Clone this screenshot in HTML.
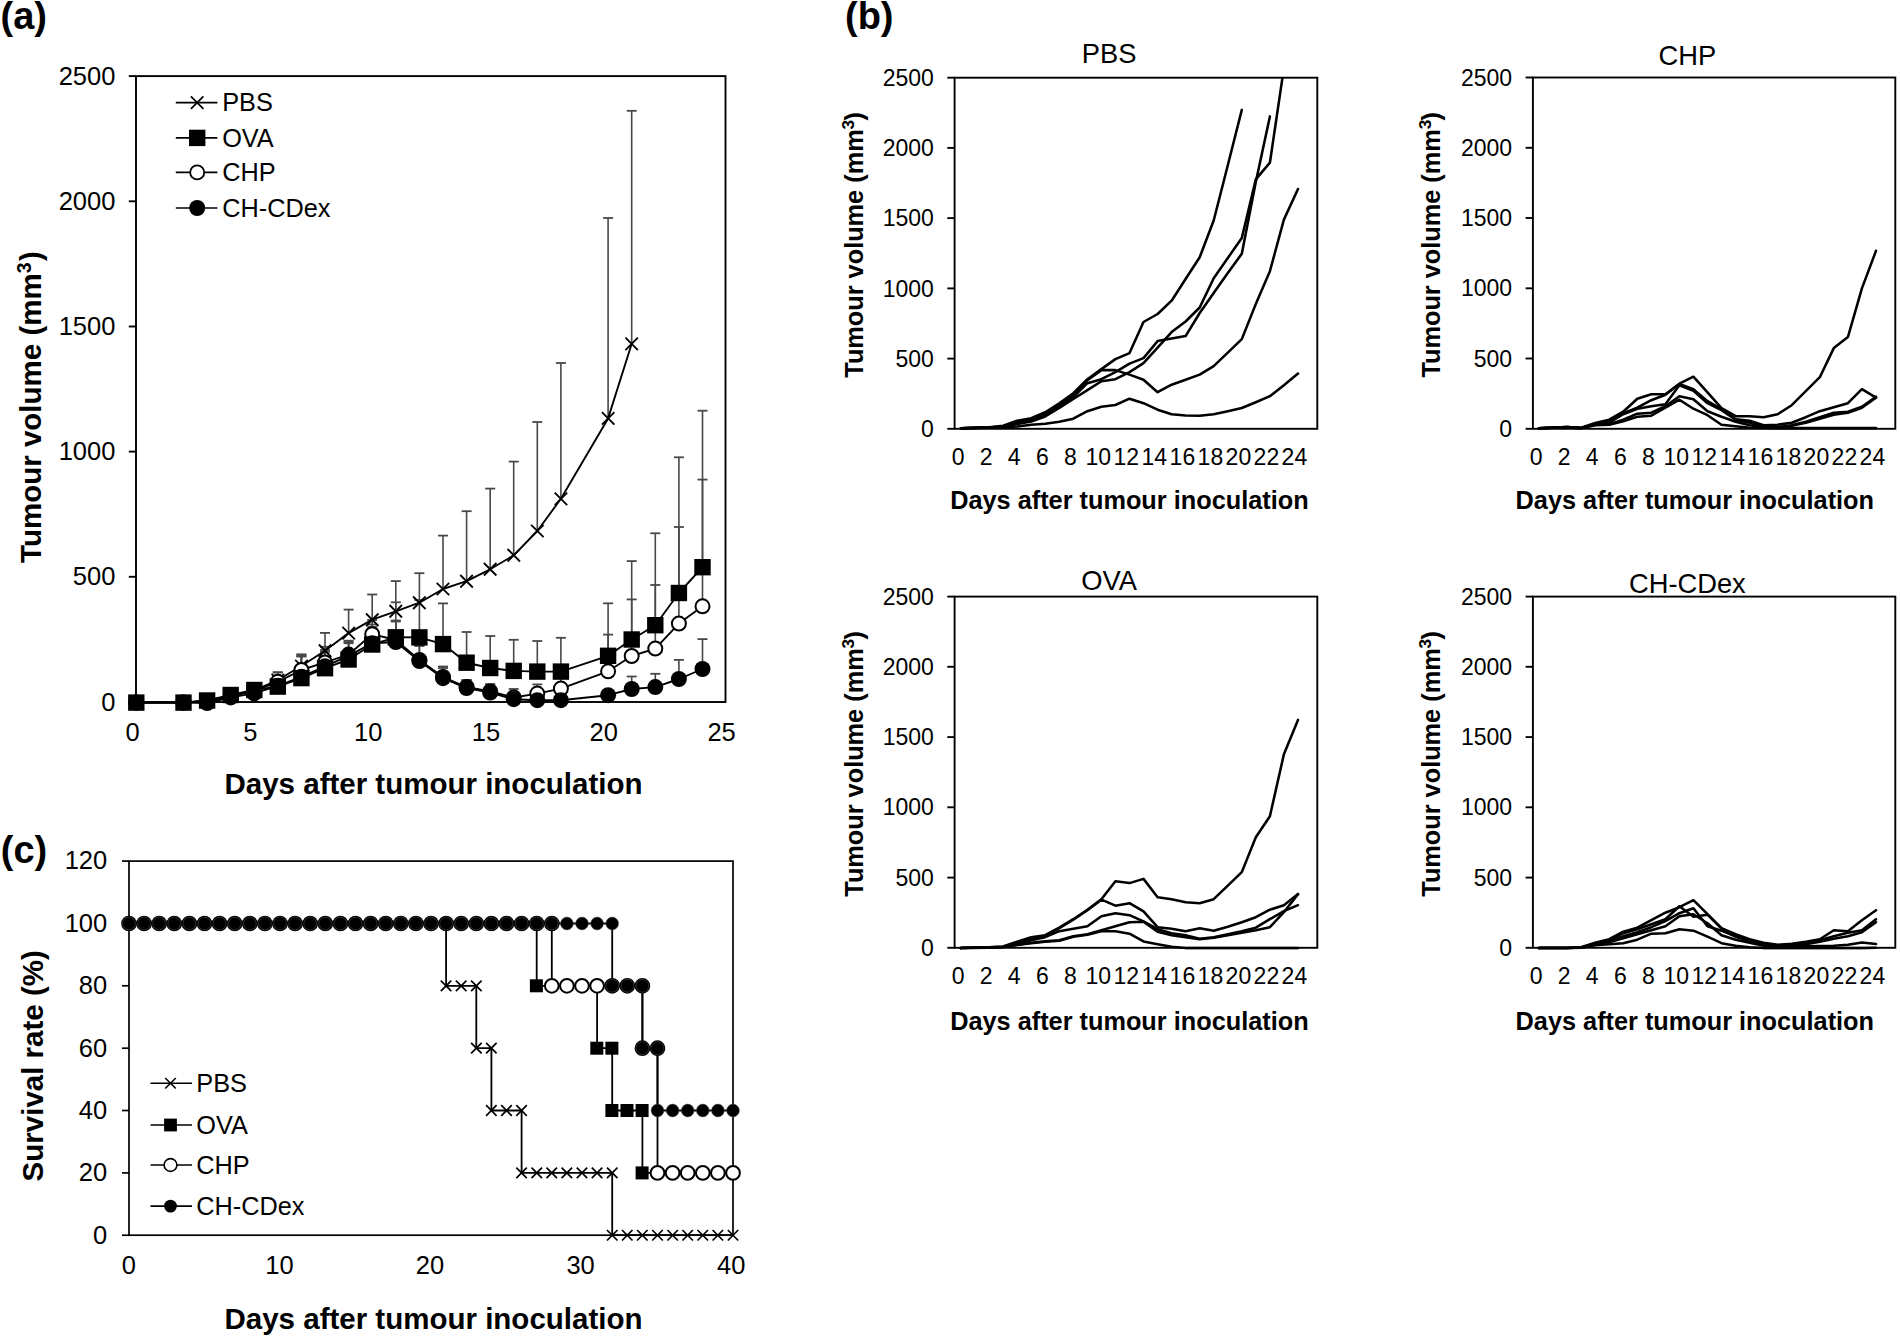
<!DOCTYPE html>
<html lang="en"><head><meta charset="utf-8"><title>Tumour volume and survival rate</title>
<style>
html,body{margin:0;padding:0;background:#fff;}
body{width:1900px;height:1338px;overflow:hidden;}
svg{display:block;font-family:"Liberation Sans", Arial, Helvetica, sans-serif;fill:#000;}
svg text{fill:#000;}
</style></head><body>
<svg width="1900" height="1338" viewBox="0 0 1900 1338">
<rect x="0" y="0" width="1900" height="1338" fill="#fff"/>
<text x="0.5" y="29.3" font-size="38" text-anchor="start" font-weight="bold" >(a)</text>
<rect x="136.0" y="76.1" width="589.5" height="625.9" fill="none" stroke="#000" stroke-width="1.9"/>
<line x1="128.8" y1="702.0" x2="136.0" y2="702.0" stroke="#000" stroke-width="1.9" />
<text x="115.4" y="710.5" font-size="25.5" text-anchor="end" >0</text>
<line x1="128.8" y1="576.8" x2="136.0" y2="576.8" stroke="#000" stroke-width="1.9" />
<text x="115.4" y="585.3" font-size="25.5" text-anchor="end" >500</text>
<line x1="128.8" y1="451.6" x2="136.0" y2="451.6" stroke="#000" stroke-width="1.9" />
<text x="115.4" y="460.1" font-size="25.5" text-anchor="end" >1000</text>
<line x1="128.8" y1="326.5" x2="136.0" y2="326.5" stroke="#000" stroke-width="1.9" />
<text x="115.4" y="335.0" font-size="25.5" text-anchor="end" >1500</text>
<line x1="128.8" y1="201.3" x2="136.0" y2="201.3" stroke="#000" stroke-width="1.9" />
<text x="115.4" y="209.8" font-size="25.5" text-anchor="end" >2000</text>
<line x1="128.8" y1="76.1" x2="136.0" y2="76.1" stroke="#000" stroke-width="1.9" />
<text x="115.4" y="84.6" font-size="25.5" text-anchor="end" >2500</text>
<text x="132.6" y="740.9" font-size="25.5" text-anchor="middle" >0</text>
<text x="250.4" y="740.9" font-size="25.5" text-anchor="middle" >5</text>
<text x="368.2" y="740.9" font-size="25.5" text-anchor="middle" >10</text>
<text x="486.0" y="740.9" font-size="25.5" text-anchor="middle" >15</text>
<text x="603.8" y="740.9" font-size="25.5" text-anchor="middle" >20</text>
<text x="721.6" y="740.9" font-size="25.5" text-anchor="middle" >25</text>
<text transform="translate(40.6,407.0) rotate(-90)" font-size="29.5" text-anchor="middle" font-weight="bold">Tumour volume (mm<tspan font-size="19.5" dy="-9.5">3</tspan><tspan dy="9.5" dx="1.5">)</tspan></text>
<text x="433.5" y="794.0" font-size="29.5" text-anchor="middle" font-weight="bold" >Days after tumour inoculation</text>
<g>
<line x1="254.2" y1="690.5" x2="254.2" y2="686.0" stroke="#484848" stroke-width="1.6" />
<line x1="249.2" y1="686.0" x2="259.2" y2="686.0" stroke="#484848" stroke-width="1.8" />
<line x1="277.8" y1="680.0" x2="277.8" y2="672.4" stroke="#484848" stroke-width="1.6" />
<line x1="272.8" y1="672.4" x2="282.8" y2="672.4" stroke="#484848" stroke-width="1.8" />
<line x1="301.4" y1="666.0" x2="301.4" y2="655.2" stroke="#484848" stroke-width="1.6" />
<line x1="296.4" y1="655.2" x2="306.4" y2="655.2" stroke="#484848" stroke-width="1.8" />
<line x1="325.0" y1="650.8" x2="325.0" y2="632.9" stroke="#484848" stroke-width="1.6" />
<line x1="320.0" y1="632.9" x2="330.0" y2="632.9" stroke="#484848" stroke-width="1.8" />
<line x1="348.6" y1="633.1" x2="348.6" y2="609.6" stroke="#484848" stroke-width="1.6" />
<line x1="343.6" y1="609.6" x2="353.6" y2="609.6" stroke="#484848" stroke-width="1.8" />
<line x1="372.2" y1="619.7" x2="372.2" y2="594.5" stroke="#484848" stroke-width="1.6" />
<line x1="367.2" y1="594.5" x2="377.2" y2="594.5" stroke="#484848" stroke-width="1.8" />
<line x1="395.8" y1="611.3" x2="395.8" y2="581.1" stroke="#484848" stroke-width="1.6" />
<line x1="390.8" y1="581.1" x2="400.8" y2="581.1" stroke="#484848" stroke-width="1.8" />
<line x1="419.4" y1="602.7" x2="419.4" y2="573.2" stroke="#484848" stroke-width="1.6" />
<line x1="414.4" y1="573.2" x2="424.4" y2="573.2" stroke="#484848" stroke-width="1.8" />
<line x1="443.0" y1="589.0" x2="443.0" y2="535.6" stroke="#484848" stroke-width="1.6" />
<line x1="438.0" y1="535.6" x2="448.0" y2="535.6" stroke="#484848" stroke-width="1.8" />
<line x1="466.6" y1="581.2" x2="466.6" y2="511.2" stroke="#484848" stroke-width="1.6" />
<line x1="461.6" y1="511.2" x2="471.6" y2="511.2" stroke="#484848" stroke-width="1.8" />
<line x1="490.2" y1="569.3" x2="490.2" y2="488.6" stroke="#484848" stroke-width="1.6" />
<line x1="485.2" y1="488.6" x2="495.2" y2="488.6" stroke="#484848" stroke-width="1.8" />
<line x1="513.7" y1="555.3" x2="513.7" y2="461.6" stroke="#484848" stroke-width="1.6" />
<line x1="508.7" y1="461.6" x2="518.7" y2="461.6" stroke="#484848" stroke-width="1.8" />
<line x1="537.3" y1="531.0" x2="537.3" y2="422.0" stroke="#484848" stroke-width="1.6" />
<line x1="532.3" y1="422.0" x2="542.3" y2="422.0" stroke="#484848" stroke-width="1.8" />
<line x1="560.9" y1="498.8" x2="560.9" y2="363.0" stroke="#484848" stroke-width="1.6" />
<line x1="555.9" y1="363.0" x2="565.9" y2="363.0" stroke="#484848" stroke-width="1.8" />
<line x1="608.1" y1="418.4" x2="608.1" y2="218.0" stroke="#484848" stroke-width="1.6" />
<line x1="603.1" y1="218.0" x2="613.1" y2="218.0" stroke="#484848" stroke-width="1.8" />
<line x1="631.7" y1="343.8" x2="631.7" y2="110.8" stroke="#484848" stroke-width="1.6" />
<line x1="626.7" y1="110.8" x2="636.7" y2="110.8" stroke="#484848" stroke-width="1.8" />
<line x1="277.8" y1="686.6" x2="277.8" y2="677.0" stroke="#484848" stroke-width="1.6" />
<line x1="272.8" y1="677.0" x2="282.8" y2="677.0" stroke="#484848" stroke-width="1.8" />
<line x1="301.4" y1="678.1" x2="301.4" y2="654.3" stroke="#484848" stroke-width="1.6" />
<line x1="296.4" y1="654.3" x2="306.4" y2="654.3" stroke="#484848" stroke-width="1.8" />
<line x1="325.0" y1="668.2" x2="325.0" y2="652.0" stroke="#484848" stroke-width="1.6" />
<line x1="320.0" y1="652.0" x2="330.0" y2="652.0" stroke="#484848" stroke-width="1.8" />
<line x1="348.6" y1="659.5" x2="348.6" y2="640.7" stroke="#484848" stroke-width="1.6" />
<line x1="343.6" y1="640.7" x2="353.6" y2="640.7" stroke="#484848" stroke-width="1.8" />
<line x1="372.2" y1="644.5" x2="372.2" y2="624.5" stroke="#484848" stroke-width="1.6" />
<line x1="367.2" y1="624.5" x2="377.2" y2="624.5" stroke="#484848" stroke-width="1.8" />
<line x1="395.8" y1="637.3" x2="395.8" y2="602.3" stroke="#484848" stroke-width="1.6" />
<line x1="390.8" y1="602.3" x2="400.8" y2="602.3" stroke="#484848" stroke-width="1.8" />
<line x1="419.4" y1="637.4" x2="419.4" y2="600.0" stroke="#484848" stroke-width="1.6" />
<line x1="414.4" y1="600.0" x2="424.4" y2="600.0" stroke="#484848" stroke-width="1.8" />
<line x1="443.0" y1="644.1" x2="443.0" y2="603.4" stroke="#484848" stroke-width="1.6" />
<line x1="438.0" y1="603.4" x2="448.0" y2="603.4" stroke="#484848" stroke-width="1.8" />
<line x1="466.6" y1="662.7" x2="466.6" y2="632.0" stroke="#484848" stroke-width="1.6" />
<line x1="461.6" y1="632.0" x2="471.6" y2="632.0" stroke="#484848" stroke-width="1.8" />
<line x1="490.2" y1="668.0" x2="490.2" y2="636.0" stroke="#484848" stroke-width="1.6" />
<line x1="485.2" y1="636.0" x2="495.2" y2="636.0" stroke="#484848" stroke-width="1.8" />
<line x1="513.7" y1="670.9" x2="513.7" y2="639.8" stroke="#484848" stroke-width="1.6" />
<line x1="508.7" y1="639.8" x2="518.7" y2="639.8" stroke="#484848" stroke-width="1.8" />
<line x1="537.3" y1="671.6" x2="537.3" y2="641.0" stroke="#484848" stroke-width="1.6" />
<line x1="532.3" y1="641.0" x2="542.3" y2="641.0" stroke="#484848" stroke-width="1.8" />
<line x1="560.9" y1="671.6" x2="560.9" y2="637.8" stroke="#484848" stroke-width="1.6" />
<line x1="555.9" y1="637.8" x2="565.9" y2="637.8" stroke="#484848" stroke-width="1.8" />
<line x1="608.1" y1="655.8" x2="608.1" y2="603.3" stroke="#484848" stroke-width="1.6" />
<line x1="603.1" y1="603.3" x2="613.1" y2="603.3" stroke="#484848" stroke-width="1.8" />
<line x1="631.7" y1="639.5" x2="631.7" y2="561.1" stroke="#484848" stroke-width="1.6" />
<line x1="626.7" y1="561.1" x2="636.7" y2="561.1" stroke="#484848" stroke-width="1.8" />
<line x1="655.3" y1="625.2" x2="655.3" y2="533.3" stroke="#484848" stroke-width="1.6" />
<line x1="650.3" y1="533.3" x2="660.3" y2="533.3" stroke="#484848" stroke-width="1.8" />
<line x1="678.9" y1="593.0" x2="678.9" y2="457.3" stroke="#484848" stroke-width="1.6" />
<line x1="673.9" y1="457.3" x2="683.9" y2="457.3" stroke="#484848" stroke-width="1.8" />
<line x1="702.5" y1="567.2" x2="702.5" y2="410.7" stroke="#484848" stroke-width="1.6" />
<line x1="697.5" y1="410.7" x2="707.5" y2="410.7" stroke="#484848" stroke-width="1.8" />
<line x1="277.8" y1="681.8" x2="277.8" y2="672.3" stroke="#484848" stroke-width="1.6" />
<line x1="272.8" y1="672.3" x2="282.8" y2="672.3" stroke="#484848" stroke-width="1.8" />
<line x1="301.4" y1="670.0" x2="301.4" y2="656.2" stroke="#484848" stroke-width="1.6" />
<line x1="296.4" y1="656.2" x2="306.4" y2="656.2" stroke="#484848" stroke-width="1.8" />
<line x1="325.0" y1="662.4" x2="325.0" y2="646.8" stroke="#484848" stroke-width="1.6" />
<line x1="320.0" y1="646.8" x2="330.0" y2="646.8" stroke="#484848" stroke-width="1.8" />
<line x1="348.6" y1="654.6" x2="348.6" y2="643.2" stroke="#484848" stroke-width="1.6" />
<line x1="343.6" y1="643.2" x2="353.6" y2="643.2" stroke="#484848" stroke-width="1.8" />
<line x1="372.2" y1="634.2" x2="372.2" y2="620.0" stroke="#484848" stroke-width="1.6" />
<line x1="367.2" y1="620.0" x2="377.2" y2="620.0" stroke="#484848" stroke-width="1.8" />
<line x1="395.8" y1="640.0" x2="395.8" y2="620.5" stroke="#484848" stroke-width="1.6" />
<line x1="390.8" y1="620.5" x2="400.8" y2="620.5" stroke="#484848" stroke-width="1.8" />
<line x1="419.4" y1="660.0" x2="419.4" y2="645.0" stroke="#484848" stroke-width="1.6" />
<line x1="414.4" y1="645.0" x2="424.4" y2="645.0" stroke="#484848" stroke-width="1.8" />
<line x1="443.0" y1="677.0" x2="443.0" y2="668.0" stroke="#484848" stroke-width="1.6" />
<line x1="438.0" y1="668.0" x2="448.0" y2="668.0" stroke="#484848" stroke-width="1.8" />
<line x1="466.6" y1="687.0" x2="466.6" y2="680.0" stroke="#484848" stroke-width="1.6" />
<line x1="461.6" y1="680.0" x2="471.6" y2="680.0" stroke="#484848" stroke-width="1.8" />
<line x1="490.2" y1="691.5" x2="490.2" y2="684.0" stroke="#484848" stroke-width="1.6" />
<line x1="485.2" y1="684.0" x2="495.2" y2="684.0" stroke="#484848" stroke-width="1.8" />
<line x1="513.7" y1="697.5" x2="513.7" y2="689.0" stroke="#484848" stroke-width="1.6" />
<line x1="508.7" y1="689.0" x2="518.7" y2="689.0" stroke="#484848" stroke-width="1.8" />
<line x1="537.3" y1="693.6" x2="537.3" y2="684.4" stroke="#484848" stroke-width="1.6" />
<line x1="532.3" y1="684.4" x2="542.3" y2="684.4" stroke="#484848" stroke-width="1.8" />
<line x1="560.9" y1="688.6" x2="560.9" y2="676.0" stroke="#484848" stroke-width="1.6" />
<line x1="555.9" y1="676.0" x2="565.9" y2="676.0" stroke="#484848" stroke-width="1.8" />
<line x1="608.1" y1="671.3" x2="608.1" y2="634.6" stroke="#484848" stroke-width="1.6" />
<line x1="603.1" y1="634.6" x2="613.1" y2="634.6" stroke="#484848" stroke-width="1.8" />
<line x1="631.7" y1="656.0" x2="631.7" y2="599.4" stroke="#484848" stroke-width="1.6" />
<line x1="626.7" y1="599.4" x2="636.7" y2="599.4" stroke="#484848" stroke-width="1.8" />
<line x1="655.3" y1="648.6" x2="655.3" y2="585.0" stroke="#484848" stroke-width="1.6" />
<line x1="650.3" y1="585.0" x2="660.3" y2="585.0" stroke="#484848" stroke-width="1.8" />
<line x1="678.9" y1="623.6" x2="678.9" y2="527.0" stroke="#484848" stroke-width="1.6" />
<line x1="673.9" y1="527.0" x2="683.9" y2="527.0" stroke="#484848" stroke-width="1.8" />
<line x1="702.5" y1="606.3" x2="702.5" y2="479.6" stroke="#484848" stroke-width="1.6" />
<line x1="697.5" y1="479.6" x2="707.5" y2="479.6" stroke="#484848" stroke-width="1.8" />
<line x1="301.4" y1="676.8" x2="301.4" y2="656.5" stroke="#484848" stroke-width="1.6" />
<line x1="296.4" y1="656.5" x2="306.4" y2="656.5" stroke="#484848" stroke-width="1.8" />
<line x1="325.0" y1="666.3" x2="325.0" y2="650.0" stroke="#484848" stroke-width="1.6" />
<line x1="320.0" y1="650.0" x2="330.0" y2="650.0" stroke="#484848" stroke-width="1.8" />
<line x1="348.6" y1="655.8" x2="348.6" y2="642.0" stroke="#484848" stroke-width="1.6" />
<line x1="343.6" y1="642.0" x2="353.6" y2="642.0" stroke="#484848" stroke-width="1.8" />
<line x1="372.2" y1="643.2" x2="372.2" y2="627.0" stroke="#484848" stroke-width="1.6" />
<line x1="367.2" y1="627.0" x2="377.2" y2="627.0" stroke="#484848" stroke-width="1.8" />
<line x1="395.8" y1="642.0" x2="395.8" y2="621.5" stroke="#484848" stroke-width="1.6" />
<line x1="390.8" y1="621.5" x2="400.8" y2="621.5" stroke="#484848" stroke-width="1.8" />
<line x1="419.4" y1="661.0" x2="419.4" y2="646.0" stroke="#484848" stroke-width="1.6" />
<line x1="414.4" y1="646.0" x2="424.4" y2="646.0" stroke="#484848" stroke-width="1.8" />
<line x1="443.0" y1="678.2" x2="443.0" y2="666.5" stroke="#484848" stroke-width="1.6" />
<line x1="438.0" y1="666.5" x2="448.0" y2="666.5" stroke="#484848" stroke-width="1.8" />
<line x1="466.6" y1="688.1" x2="466.6" y2="680.0" stroke="#484848" stroke-width="1.6" />
<line x1="461.6" y1="680.0" x2="471.6" y2="680.0" stroke="#484848" stroke-width="1.8" />
<line x1="490.2" y1="692.5" x2="490.2" y2="685.0" stroke="#484848" stroke-width="1.6" />
<line x1="485.2" y1="685.0" x2="495.2" y2="685.0" stroke="#484848" stroke-width="1.8" />
<line x1="608.1" y1="695.2" x2="608.1" y2="690.0" stroke="#484848" stroke-width="1.6" />
<line x1="603.1" y1="690.0" x2="613.1" y2="690.0" stroke="#484848" stroke-width="1.8" />
<line x1="631.7" y1="689.0" x2="631.7" y2="676.5" stroke="#484848" stroke-width="1.6" />
<line x1="626.7" y1="676.5" x2="636.7" y2="676.5" stroke="#484848" stroke-width="1.8" />
<line x1="655.3" y1="687.1" x2="655.3" y2="673.8" stroke="#484848" stroke-width="1.6" />
<line x1="650.3" y1="673.8" x2="660.3" y2="673.8" stroke="#484848" stroke-width="1.8" />
<line x1="678.9" y1="679.0" x2="678.9" y2="659.9" stroke="#484848" stroke-width="1.6" />
<line x1="673.9" y1="659.9" x2="683.9" y2="659.9" stroke="#484848" stroke-width="1.8" />
<line x1="702.5" y1="669.0" x2="702.5" y2="639.1" stroke="#484848" stroke-width="1.6" />
<line x1="697.5" y1="639.1" x2="707.5" y2="639.1" stroke="#484848" stroke-width="1.8" />
</g>
<polyline points="136.3,702.6 183.5,702.6 207.1,700.5 230.7,696.0 254.2,690.5 277.8,680.0 301.4,666.0 325.0,650.8 348.6,633.1 372.2,619.7 395.8,611.3 419.4,602.7 443.0,589.0 466.6,581.2 490.2,569.3 513.7,555.3 537.3,531.0 560.9,498.8 608.1,418.4 631.7,343.8" fill="none" stroke="#000" stroke-width="1.9" stroke-linejoin="round" stroke-linecap="round" />
<path d="M130.1 696.4L142.6 708.9M130.1 708.9L142.6 696.4" stroke="#000" stroke-width="1.8" fill="none"/>
<path d="M177.2 696.4L189.7 708.9M177.2 708.9L189.7 696.4" stroke="#000" stroke-width="1.8" fill="none"/>
<path d="M200.8 694.2L213.3 706.8M200.8 706.8L213.3 694.2" stroke="#000" stroke-width="1.8" fill="none"/>
<path d="M224.4 689.8L236.9 702.2M224.4 702.2L236.9 689.8" stroke="#000" stroke-width="1.8" fill="none"/>
<path d="M248.0 684.2L260.5 696.8M248.0 696.8L260.5 684.2" stroke="#000" stroke-width="1.8" fill="none"/>
<path d="M271.6 673.8L284.1 686.2M271.6 686.2L284.1 673.8" stroke="#000" stroke-width="1.8" fill="none"/>
<path d="M295.2 659.8L307.7 672.2M295.2 672.2L307.7 659.8" stroke="#000" stroke-width="1.8" fill="none"/>
<path d="M318.8 644.5L331.3 657.0M318.8 657.0L331.3 644.5" stroke="#000" stroke-width="1.8" fill="none"/>
<path d="M342.4 626.9L354.9 639.4M342.4 639.4L354.9 626.9" stroke="#000" stroke-width="1.8" fill="none"/>
<path d="M366.0 613.5L378.5 626.0M366.0 626.0L378.5 613.5" stroke="#000" stroke-width="1.8" fill="none"/>
<path d="M389.5 605.0L402.0 617.5M389.5 617.5L402.0 605.0" stroke="#000" stroke-width="1.8" fill="none"/>
<path d="M413.1 596.5L425.6 609.0M413.1 609.0L425.6 596.5" stroke="#000" stroke-width="1.8" fill="none"/>
<path d="M436.7 582.8L449.2 595.2M436.7 595.2L449.2 582.8" stroke="#000" stroke-width="1.8" fill="none"/>
<path d="M460.3 575.0L472.8 587.5M460.3 587.5L472.8 575.0" stroke="#000" stroke-width="1.8" fill="none"/>
<path d="M483.9 563.0L496.4 575.5M483.9 575.5L496.4 563.0" stroke="#000" stroke-width="1.8" fill="none"/>
<path d="M507.5 549.0L520.0 561.5M507.5 561.5L520.0 549.0" stroke="#000" stroke-width="1.8" fill="none"/>
<path d="M531.1 524.8L543.6 537.2M531.1 537.2L543.6 524.8" stroke="#000" stroke-width="1.8" fill="none"/>
<path d="M554.7 492.6L567.2 505.1M554.7 505.1L567.2 492.6" stroke="#000" stroke-width="1.8" fill="none"/>
<path d="M601.9 412.1L614.4 424.6M601.9 424.6L614.4 412.1" stroke="#000" stroke-width="1.8" fill="none"/>
<path d="M625.4 337.6L637.9 350.1M625.4 350.1L637.9 337.6" stroke="#000" stroke-width="1.8" fill="none"/>
<polyline points="136.3,702.6 183.5,702.6 207.1,701.0 230.7,696.0 254.2,691.0 277.8,681.8 301.4,670.0 325.0,662.4 348.6,654.6 372.2,634.2 395.8,640.0 419.4,660.0 443.0,677.0 466.6,687.0 490.2,691.5 513.7,697.5 537.3,693.6 560.9,688.6 608.1,671.3 631.7,656.0 655.3,648.6 678.9,623.6 702.5,606.3" fill="none" stroke="#000" stroke-width="1.9" stroke-linejoin="round" stroke-linecap="round" />
<circle cx="136.3" cy="702.6" r="7.0" fill="#fff" stroke="#000" stroke-width="2.0"/>
<circle cx="183.5" cy="702.6" r="7.0" fill="#fff" stroke="#000" stroke-width="2.0"/>
<circle cx="207.1" cy="701.0" r="7.0" fill="#fff" stroke="#000" stroke-width="2.0"/>
<circle cx="230.7" cy="696.0" r="7.0" fill="#fff" stroke="#000" stroke-width="2.0"/>
<circle cx="254.2" cy="691.0" r="7.0" fill="#fff" stroke="#000" stroke-width="2.0"/>
<circle cx="277.8" cy="681.8" r="7.0" fill="#fff" stroke="#000" stroke-width="2.0"/>
<circle cx="301.4" cy="670.0" r="7.0" fill="#fff" stroke="#000" stroke-width="2.0"/>
<circle cx="325.0" cy="662.4" r="7.0" fill="#fff" stroke="#000" stroke-width="2.0"/>
<circle cx="348.6" cy="654.6" r="7.0" fill="#fff" stroke="#000" stroke-width="2.0"/>
<circle cx="372.2" cy="634.2" r="7.0" fill="#fff" stroke="#000" stroke-width="2.0"/>
<circle cx="395.8" cy="640.0" r="7.0" fill="#fff" stroke="#000" stroke-width="2.0"/>
<circle cx="419.4" cy="660.0" r="7.0" fill="#fff" stroke="#000" stroke-width="2.0"/>
<circle cx="443.0" cy="677.0" r="7.0" fill="#fff" stroke="#000" stroke-width="2.0"/>
<circle cx="466.6" cy="687.0" r="7.0" fill="#fff" stroke="#000" stroke-width="2.0"/>
<circle cx="490.2" cy="691.5" r="7.0" fill="#fff" stroke="#000" stroke-width="2.0"/>
<circle cx="513.7" cy="697.5" r="7.0" fill="#fff" stroke="#000" stroke-width="2.0"/>
<circle cx="537.3" cy="693.6" r="7.0" fill="#fff" stroke="#000" stroke-width="2.0"/>
<circle cx="560.9" cy="688.6" r="7.0" fill="#fff" stroke="#000" stroke-width="2.0"/>
<circle cx="608.1" cy="671.3" r="7.0" fill="#fff" stroke="#000" stroke-width="2.0"/>
<circle cx="631.7" cy="656.0" r="7.0" fill="#fff" stroke="#000" stroke-width="2.0"/>
<circle cx="655.3" cy="648.6" r="7.0" fill="#fff" stroke="#000" stroke-width="2.0"/>
<circle cx="678.9" cy="623.6" r="7.0" fill="#fff" stroke="#000" stroke-width="2.0"/>
<circle cx="702.5" cy="606.3" r="7.0" fill="#fff" stroke="#000" stroke-width="2.0"/>
<polyline points="136.3,702.6 183.5,702.6 207.1,703.0 230.7,697.4 254.2,693.4 277.8,685.8 301.4,676.8 325.0,666.3 348.6,655.8 372.2,643.2 395.8,642.0 419.4,661.0 443.0,678.2 466.6,688.1 490.2,692.5 513.7,699.2 537.3,700.2 560.9,700.2 608.1,695.2 631.7,689.0 655.3,687.1 678.9,679.0 702.5,669.0" fill="none" stroke="#000" stroke-width="1.9" stroke-linejoin="round" stroke-linecap="round" />
<circle cx="136.3" cy="702.6" r="8.0" fill="#000"/>
<circle cx="183.5" cy="702.6" r="8.0" fill="#000"/>
<circle cx="207.1" cy="703.0" r="8.0" fill="#000"/>
<circle cx="230.7" cy="697.4" r="8.0" fill="#000"/>
<circle cx="254.2" cy="693.4" r="8.0" fill="#000"/>
<circle cx="277.8" cy="685.8" r="8.0" fill="#000"/>
<circle cx="301.4" cy="676.8" r="8.0" fill="#000"/>
<circle cx="325.0" cy="666.3" r="8.0" fill="#000"/>
<circle cx="348.6" cy="655.8" r="8.0" fill="#000"/>
<circle cx="372.2" cy="643.2" r="8.0" fill="#000"/>
<circle cx="395.8" cy="642.0" r="8.0" fill="#000"/>
<circle cx="419.4" cy="661.0" r="8.0" fill="#000"/>
<circle cx="443.0" cy="678.2" r="8.0" fill="#000"/>
<circle cx="466.6" cy="688.1" r="8.0" fill="#000"/>
<circle cx="490.2" cy="692.5" r="8.0" fill="#000"/>
<circle cx="513.7" cy="699.2" r="8.0" fill="#000"/>
<circle cx="537.3" cy="700.2" r="8.0" fill="#000"/>
<circle cx="560.9" cy="700.2" r="8.0" fill="#000"/>
<circle cx="608.1" cy="695.2" r="8.0" fill="#000"/>
<circle cx="631.7" cy="689.0" r="8.0" fill="#000"/>
<circle cx="655.3" cy="687.1" r="8.0" fill="#000"/>
<circle cx="678.9" cy="679.0" r="8.0" fill="#000"/>
<circle cx="702.5" cy="669.0" r="8.0" fill="#000"/>
<polyline points="136.3,702.6 183.5,702.6 207.1,700.5 230.7,695.0 254.2,690.0 277.8,686.6 301.4,678.1 325.0,668.2 348.6,659.5 372.2,644.5 395.8,637.3 419.4,637.4 443.0,644.1 466.6,662.7 490.2,668.0 513.7,670.9 537.3,671.6 560.9,671.6 608.1,655.8 631.7,639.5 655.3,625.2 678.9,593.0 702.5,567.2" fill="none" stroke="#000" stroke-width="1.9" stroke-linejoin="round" stroke-linecap="round" />
<rect x="128.1" y="694.4" width="16.4" height="16.4" fill="#000"/>
<rect x="175.3" y="694.4" width="16.4" height="16.4" fill="#000"/>
<rect x="198.9" y="692.3" width="16.4" height="16.4" fill="#000"/>
<rect x="222.5" y="686.8" width="16.4" height="16.4" fill="#000"/>
<rect x="246.1" y="681.8" width="16.4" height="16.4" fill="#000"/>
<rect x="269.6" y="678.4" width="16.4" height="16.4" fill="#000"/>
<rect x="293.2" y="669.9" width="16.4" height="16.4" fill="#000"/>
<rect x="316.8" y="660.0" width="16.4" height="16.4" fill="#000"/>
<rect x="340.4" y="651.3" width="16.4" height="16.4" fill="#000"/>
<rect x="364.0" y="636.3" width="16.4" height="16.4" fill="#000"/>
<rect x="387.6" y="629.1" width="16.4" height="16.4" fill="#000"/>
<rect x="411.2" y="629.2" width="16.4" height="16.4" fill="#000"/>
<rect x="434.8" y="635.9" width="16.4" height="16.4" fill="#000"/>
<rect x="458.4" y="654.5" width="16.4" height="16.4" fill="#000"/>
<rect x="482.0" y="659.8" width="16.4" height="16.4" fill="#000"/>
<rect x="505.5" y="662.7" width="16.4" height="16.4" fill="#000"/>
<rect x="529.1" y="663.4" width="16.4" height="16.4" fill="#000"/>
<rect x="552.7" y="663.4" width="16.4" height="16.4" fill="#000"/>
<rect x="599.9" y="647.6" width="16.4" height="16.4" fill="#000"/>
<rect x="623.5" y="631.3" width="16.4" height="16.4" fill="#000"/>
<rect x="647.1" y="617.0" width="16.4" height="16.4" fill="#000"/>
<rect x="670.7" y="584.8" width="16.4" height="16.4" fill="#000"/>
<rect x="694.3" y="559.0" width="16.4" height="16.4" fill="#000"/>
<line x1="175.8" y1="102.6" x2="217.4" y2="102.6" stroke="#000" stroke-width="1.7" />
<path d="M190.9 96.3L203.4 108.8M190.9 108.8L203.4 96.3" stroke="#000" stroke-width="1.7" fill="none"/>
<text x="222.2" y="111.4" font-size="25.3" text-anchor="start" >PBS</text>
<line x1="175.8" y1="137.9" x2="217.4" y2="137.9" stroke="#000" stroke-width="1.7" />
<rect x="189.0" y="129.7" width="16.4" height="16.4" fill="#000"/>
<text x="222.2" y="146.7" font-size="25.3" text-anchor="start" >OVA</text>
<line x1="175.8" y1="172.4" x2="217.4" y2="172.4" stroke="#000" stroke-width="1.7" />
<circle cx="197.2" cy="172.4" r="7.0" fill="#fff" stroke="#000" stroke-width="1.8"/>
<text x="222.2" y="181.2" font-size="25.3" text-anchor="start" >CHP</text>
<line x1="175.8" y1="208.0" x2="217.4" y2="208.0" stroke="#000" stroke-width="1.7" />
<circle cx="197.2" cy="208.0" r="8.0" fill="#000"/>
<text x="222.2" y="216.8" font-size="25.3" text-anchor="start" >CH-CDex</text>
<text x="0.8" y="862.7" font-size="38" text-anchor="start" font-weight="bold" >(c)</text>
<rect x="129.0" y="861.1" width="604.0" height="374.1" fill="none" stroke="#000" stroke-width="1.7"/>
<line x1="122.0" y1="1235.2" x2="129.0" y2="1235.2" stroke="#000" stroke-width="1.7" />
<text x="107.2" y="1243.5" font-size="25.5" text-anchor="end" >0</text>
<line x1="122.0" y1="1172.9" x2="129.0" y2="1172.9" stroke="#000" stroke-width="1.7" />
<text x="107.2" y="1181.2" font-size="25.5" text-anchor="end" >20</text>
<line x1="122.0" y1="1110.5" x2="129.0" y2="1110.5" stroke="#000" stroke-width="1.7" />
<text x="107.2" y="1118.8" font-size="25.5" text-anchor="end" >40</text>
<line x1="122.0" y1="1048.2" x2="129.0" y2="1048.2" stroke="#000" stroke-width="1.7" />
<text x="107.2" y="1056.5" font-size="25.5" text-anchor="end" >60</text>
<line x1="122.0" y1="985.8" x2="129.0" y2="985.8" stroke="#000" stroke-width="1.7" />
<text x="107.2" y="994.1" font-size="25.5" text-anchor="end" >80</text>
<line x1="122.0" y1="923.5" x2="129.0" y2="923.5" stroke="#000" stroke-width="1.7" />
<text x="107.2" y="931.8" font-size="25.5" text-anchor="end" >100</text>
<line x1="122.0" y1="861.1" x2="129.0" y2="861.1" stroke="#000" stroke-width="1.7" />
<text x="107.2" y="869.4" font-size="25.5" text-anchor="end" >120</text>
<text x="128.8" y="1273.8" font-size="25.5" text-anchor="middle" >0</text>
<text x="279.4" y="1273.8" font-size="25.5" text-anchor="middle" >10</text>
<text x="430.0" y="1273.8" font-size="25.5" text-anchor="middle" >20</text>
<text x="580.6" y="1273.8" font-size="25.5" text-anchor="middle" >30</text>
<text x="731.2" y="1273.8" font-size="25.5" text-anchor="middle" >40</text>
<text transform="translate(43.0,1065.8) rotate(-90)" font-size="29.5" text-anchor="middle" font-weight="bold">Survival rate (%)</text>
<text x="433.5" y="1328.5" font-size="29.5" text-anchor="middle" font-weight="bold" >Days after tumour inoculation</text>
<polyline points="129.0,923.5 144.1,923.5 159.2,923.5 174.3,923.5 189.4,923.5 204.5,923.5 219.6,923.5 234.7,923.5 249.8,923.5 264.9,923.5 280.0,923.5 295.1,923.5 310.2,923.5 325.3,923.5 340.4,923.5 355.5,923.5 370.6,923.5 385.7,923.5 400.8,923.5 415.9,923.5 431.0,923.5 446.1,923.5 446.1,985.8 461.2,985.8 476.3,985.8 476.3,1048.2 491.4,1048.2 491.4,1110.5 506.5,1110.5 521.6,1110.5 521.6,1172.9 536.7,1172.9 551.8,1172.9 566.9,1172.9 582.0,1172.9 597.1,1172.9 612.2,1172.9 612.2,1235.2 627.3,1235.2 642.4,1235.2 657.5,1235.2 672.6,1235.2 687.7,1235.2 702.8,1235.2 717.9,1235.2 733.0,1235.2" fill="none" stroke="#000" stroke-width="1.8" stroke-linejoin="round" stroke-linecap="round" />
<path d="M123.8 918.2L134.2 928.7M123.8 928.7L134.2 918.2" stroke="#000" stroke-width="1.7" fill="none"/>
<path d="M138.8 918.2L149.3 928.7M138.8 928.7L149.3 918.2" stroke="#000" stroke-width="1.7" fill="none"/>
<path d="M153.9 918.2L164.4 928.7M153.9 928.7L164.4 918.2" stroke="#000" stroke-width="1.7" fill="none"/>
<path d="M169.1 918.2L179.6 928.7M169.1 928.7L179.6 918.2" stroke="#000" stroke-width="1.7" fill="none"/>
<path d="M184.2 918.2L194.7 928.7M184.2 928.7L194.7 918.2" stroke="#000" stroke-width="1.7" fill="none"/>
<path d="M199.2 918.2L209.8 928.7M199.2 928.7L209.8 918.2" stroke="#000" stroke-width="1.7" fill="none"/>
<path d="M214.3 918.2L224.8 928.7M214.3 928.7L224.8 918.2" stroke="#000" stroke-width="1.7" fill="none"/>
<path d="M229.4 918.2L239.9 928.7M229.4 928.7L239.9 918.2" stroke="#000" stroke-width="1.7" fill="none"/>
<path d="M244.6 918.2L255.1 928.7M244.6 928.7L255.1 918.2" stroke="#000" stroke-width="1.7" fill="none"/>
<path d="M259.6 918.2L270.1 928.7M259.6 928.7L270.1 918.2" stroke="#000" stroke-width="1.7" fill="none"/>
<path d="M274.8 918.2L285.2 928.7M274.8 928.7L285.2 918.2" stroke="#000" stroke-width="1.7" fill="none"/>
<path d="M289.9 918.2L300.4 928.7M289.9 928.7L300.4 918.2" stroke="#000" stroke-width="1.7" fill="none"/>
<path d="M304.9 918.2L315.4 928.7M304.9 928.7L315.4 918.2" stroke="#000" stroke-width="1.7" fill="none"/>
<path d="M320.0 918.2L330.5 928.7M320.0 928.7L330.5 918.2" stroke="#000" stroke-width="1.7" fill="none"/>
<path d="M335.1 918.2L345.6 928.7M335.1 928.7L345.6 918.2" stroke="#000" stroke-width="1.7" fill="none"/>
<path d="M350.2 918.2L360.8 928.7M350.2 928.7L360.8 918.2" stroke="#000" stroke-width="1.7" fill="none"/>
<path d="M365.4 918.2L375.9 928.7M365.4 928.7L375.9 918.2" stroke="#000" stroke-width="1.7" fill="none"/>
<path d="M380.4 918.2L390.9 928.7M380.4 928.7L390.9 918.2" stroke="#000" stroke-width="1.7" fill="none"/>
<path d="M395.6 918.2L406.1 928.7M395.6 928.7L406.1 918.2" stroke="#000" stroke-width="1.7" fill="none"/>
<path d="M410.6 918.2L421.1 928.7M410.6 928.7L421.1 918.2" stroke="#000" stroke-width="1.7" fill="none"/>
<path d="M425.8 918.2L436.2 928.7M425.8 928.7L436.2 918.2" stroke="#000" stroke-width="1.7" fill="none"/>
<path d="M440.8 918.2L451.3 928.7M440.8 928.7L451.3 918.2" stroke="#000" stroke-width="1.7" fill="none"/>
<path d="M440.8 980.6L451.3 991.1M440.8 991.1L451.3 980.6" stroke="#000" stroke-width="1.7" fill="none"/>
<path d="M455.9 980.6L466.4 991.1M455.9 991.1L466.4 980.6" stroke="#000" stroke-width="1.7" fill="none"/>
<path d="M471.1 980.6L481.6 991.1M471.1 991.1L481.6 980.6" stroke="#000" stroke-width="1.7" fill="none"/>
<path d="M471.1 1042.9L481.6 1053.4M471.1 1053.4L481.6 1042.9" stroke="#000" stroke-width="1.7" fill="none"/>
<path d="M486.1 1042.9L496.6 1053.4M486.1 1053.4L496.6 1042.9" stroke="#000" stroke-width="1.7" fill="none"/>
<path d="M486.1 1105.2L496.6 1115.8M486.1 1115.8L496.6 1105.2" stroke="#000" stroke-width="1.7" fill="none"/>
<path d="M501.2 1105.2L511.8 1115.8M501.2 1115.8L511.8 1105.2" stroke="#000" stroke-width="1.7" fill="none"/>
<path d="M516.3 1105.2L526.8 1115.8M516.3 1115.8L526.8 1105.2" stroke="#000" stroke-width="1.7" fill="none"/>
<path d="M516.3 1167.6L526.8 1178.1M516.3 1178.1L526.8 1167.6" stroke="#000" stroke-width="1.7" fill="none"/>
<path d="M531.5 1167.6L542.0 1178.1M531.5 1178.1L542.0 1167.6" stroke="#000" stroke-width="1.7" fill="none"/>
<path d="M546.5 1167.6L557.0 1178.1M546.5 1178.1L557.0 1167.6" stroke="#000" stroke-width="1.7" fill="none"/>
<path d="M561.6 1167.6L572.1 1178.1M561.6 1178.1L572.1 1167.6" stroke="#000" stroke-width="1.7" fill="none"/>
<path d="M576.8 1167.6L587.2 1178.1M576.8 1178.1L587.2 1167.6" stroke="#000" stroke-width="1.7" fill="none"/>
<path d="M591.8 1167.6L602.3 1178.1M591.8 1178.1L602.3 1167.6" stroke="#000" stroke-width="1.7" fill="none"/>
<path d="M607.0 1167.6L617.5 1178.1M607.0 1178.1L617.5 1167.6" stroke="#000" stroke-width="1.7" fill="none"/>
<path d="M607.0 1230.0L617.5 1240.5M607.0 1240.5L617.5 1230.0" stroke="#000" stroke-width="1.7" fill="none"/>
<path d="M622.0 1230.0L632.5 1240.5M622.0 1240.5L632.5 1230.0" stroke="#000" stroke-width="1.7" fill="none"/>
<path d="M637.1 1230.0L647.6 1240.5M637.1 1240.5L647.6 1230.0" stroke="#000" stroke-width="1.7" fill="none"/>
<path d="M652.2 1230.0L662.8 1240.5M652.2 1240.5L662.8 1230.0" stroke="#000" stroke-width="1.7" fill="none"/>
<path d="M667.4 1230.0L677.9 1240.5M667.4 1240.5L677.9 1230.0" stroke="#000" stroke-width="1.7" fill="none"/>
<path d="M682.4 1230.0L692.9 1240.5M682.4 1240.5L692.9 1230.0" stroke="#000" stroke-width="1.7" fill="none"/>
<path d="M697.5 1230.0L708.0 1240.5M697.5 1240.5L708.0 1230.0" stroke="#000" stroke-width="1.7" fill="none"/>
<path d="M712.6 1230.0L723.1 1240.5M712.6 1240.5L723.1 1230.0" stroke="#000" stroke-width="1.7" fill="none"/>
<path d="M727.8 1230.0L738.2 1240.5M727.8 1240.5L738.2 1230.0" stroke="#000" stroke-width="1.7" fill="none"/>
<polyline points="129.0,923.5 144.1,923.5 159.2,923.5 174.3,923.5 189.4,923.5 204.5,923.5 219.6,923.5 234.7,923.5 249.8,923.5 264.9,923.5 280.0,923.5 295.1,923.5 310.2,923.5 325.3,923.5 340.4,923.5 355.5,923.5 370.6,923.5 385.7,923.5 400.8,923.5 415.9,923.5 431.0,923.5 446.1,923.5 461.2,923.5 476.3,923.5 491.4,923.5 506.5,923.5 521.6,923.5 536.7,923.5 536.7,985.8 551.8,985.8 566.9,985.8 582.0,985.8 597.1,985.8 597.1,1048.2 612.2,1048.2 612.2,1110.5 627.3,1110.5 642.4,1110.5 642.4,1172.9 657.5,1172.9 672.6,1172.9 687.7,1172.9 702.8,1172.9 717.9,1172.9 733.0,1172.9" fill="none" stroke="#000" stroke-width="1.8" stroke-linejoin="round" stroke-linecap="round" />
<rect x="529.9" y="979.3" width="13.0" height="13.0" fill="#000"/>
<rect x="590.3" y="1041.7" width="13.0" height="13.0" fill="#000"/>
<rect x="605.4" y="1041.7" width="13.0" height="13.0" fill="#000"/>
<rect x="605.4" y="1104.0" width="13.0" height="13.0" fill="#000"/>
<rect x="620.5" y="1104.0" width="13.0" height="13.0" fill="#000"/>
<rect x="635.6" y="1104.0" width="13.0" height="13.0" fill="#000"/>
<rect x="635.6" y="1166.4" width="13.0" height="13.0" fill="#000"/>
<polyline points="129.0,923.5 144.1,923.5 159.2,923.5 174.3,923.5 189.4,923.5 204.5,923.5 219.6,923.5 234.7,923.5 249.8,923.5 264.9,923.5 280.0,923.5 295.1,923.5 310.2,923.5 325.3,923.5 340.4,923.5 355.5,923.5 370.6,923.5 385.7,923.5 400.8,923.5 415.9,923.5 431.0,923.5 446.1,923.5 461.2,923.5 476.3,923.5 491.4,923.5 506.5,923.5 521.6,923.5 536.7,923.5 551.8,923.5 551.8,985.8 566.9,985.8 582.0,985.8 597.1,985.8 612.2,985.8 627.3,985.8 642.4,985.8 642.4,1048.2 657.5,1048.2 657.5,1172.9 672.6,1172.9 687.7,1172.9 702.8,1172.9 717.9,1172.9 733.0,1172.9" fill="none" stroke="#000" stroke-width="1.8" stroke-linejoin="round" stroke-linecap="round" />
<circle cx="129.0" cy="923.5" r="6.85" fill="#fff" stroke="#000" stroke-width="2.0"/>
<circle cx="144.1" cy="923.5" r="6.85" fill="#fff" stroke="#000" stroke-width="2.0"/>
<circle cx="159.2" cy="923.5" r="6.85" fill="#fff" stroke="#000" stroke-width="2.0"/>
<circle cx="174.3" cy="923.5" r="6.85" fill="#fff" stroke="#000" stroke-width="2.0"/>
<circle cx="189.4" cy="923.5" r="6.85" fill="#fff" stroke="#000" stroke-width="2.0"/>
<circle cx="204.5" cy="923.5" r="6.85" fill="#fff" stroke="#000" stroke-width="2.0"/>
<circle cx="219.6" cy="923.5" r="6.85" fill="#fff" stroke="#000" stroke-width="2.0"/>
<circle cx="234.7" cy="923.5" r="6.85" fill="#fff" stroke="#000" stroke-width="2.0"/>
<circle cx="249.8" cy="923.5" r="6.85" fill="#fff" stroke="#000" stroke-width="2.0"/>
<circle cx="264.9" cy="923.5" r="6.85" fill="#fff" stroke="#000" stroke-width="2.0"/>
<circle cx="280.0" cy="923.5" r="6.85" fill="#fff" stroke="#000" stroke-width="2.0"/>
<circle cx="295.1" cy="923.5" r="6.85" fill="#fff" stroke="#000" stroke-width="2.0"/>
<circle cx="310.2" cy="923.5" r="6.85" fill="#fff" stroke="#000" stroke-width="2.0"/>
<circle cx="325.3" cy="923.5" r="6.85" fill="#fff" stroke="#000" stroke-width="2.0"/>
<circle cx="340.4" cy="923.5" r="6.85" fill="#fff" stroke="#000" stroke-width="2.0"/>
<circle cx="355.5" cy="923.5" r="6.85" fill="#fff" stroke="#000" stroke-width="2.0"/>
<circle cx="370.6" cy="923.5" r="6.85" fill="#fff" stroke="#000" stroke-width="2.0"/>
<circle cx="385.7" cy="923.5" r="6.85" fill="#fff" stroke="#000" stroke-width="2.0"/>
<circle cx="400.8" cy="923.5" r="6.85" fill="#fff" stroke="#000" stroke-width="2.0"/>
<circle cx="415.9" cy="923.5" r="6.85" fill="#fff" stroke="#000" stroke-width="2.0"/>
<circle cx="431.0" cy="923.5" r="6.85" fill="#fff" stroke="#000" stroke-width="2.0"/>
<circle cx="446.1" cy="923.5" r="6.85" fill="#fff" stroke="#000" stroke-width="2.0"/>
<circle cx="461.2" cy="923.5" r="6.85" fill="#fff" stroke="#000" stroke-width="2.0"/>
<circle cx="476.3" cy="923.5" r="6.85" fill="#fff" stroke="#000" stroke-width="2.0"/>
<circle cx="491.4" cy="923.5" r="6.85" fill="#fff" stroke="#000" stroke-width="2.0"/>
<circle cx="506.5" cy="923.5" r="6.85" fill="#fff" stroke="#000" stroke-width="2.0"/>
<circle cx="521.6" cy="923.5" r="6.85" fill="#fff" stroke="#000" stroke-width="2.0"/>
<circle cx="536.7" cy="923.5" r="6.85" fill="#fff" stroke="#000" stroke-width="2.0"/>
<circle cx="551.8" cy="923.5" r="6.85" fill="#fff" stroke="#000" stroke-width="2.0"/>
<circle cx="551.8" cy="985.8" r="6.85" fill="#fff" stroke="#000" stroke-width="2.0"/>
<circle cx="566.9" cy="985.8" r="6.85" fill="#fff" stroke="#000" stroke-width="2.0"/>
<circle cx="582.0" cy="985.8" r="6.85" fill="#fff" stroke="#000" stroke-width="2.0"/>
<circle cx="597.1" cy="985.8" r="6.85" fill="#fff" stroke="#000" stroke-width="2.0"/>
<circle cx="612.2" cy="985.8" r="6.85" fill="#fff" stroke="#000" stroke-width="2.0"/>
<circle cx="627.3" cy="985.8" r="6.85" fill="#fff" stroke="#000" stroke-width="2.0"/>
<circle cx="642.4" cy="985.8" r="6.85" fill="#fff" stroke="#000" stroke-width="2.0"/>
<circle cx="642.4" cy="1048.2" r="6.85" fill="#fff" stroke="#000" stroke-width="2.0"/>
<circle cx="657.5" cy="1048.2" r="6.85" fill="#fff" stroke="#000" stroke-width="2.0"/>
<circle cx="657.5" cy="1172.9" r="6.85" fill="#fff" stroke="#000" stroke-width="2.0"/>
<circle cx="672.6" cy="1172.9" r="6.85" fill="#fff" stroke="#000" stroke-width="2.0"/>
<circle cx="687.7" cy="1172.9" r="6.85" fill="#fff" stroke="#000" stroke-width="2.0"/>
<circle cx="702.8" cy="1172.9" r="6.85" fill="#fff" stroke="#000" stroke-width="2.0"/>
<circle cx="717.9" cy="1172.9" r="6.85" fill="#fff" stroke="#000" stroke-width="2.0"/>
<circle cx="733.0" cy="1172.9" r="6.85" fill="#fff" stroke="#000" stroke-width="2.0"/>
<polyline points="129.0,923.5 144.1,923.5 159.2,923.5 174.3,923.5 189.4,923.5 204.5,923.5 219.6,923.5 234.7,923.5 249.8,923.5 264.9,923.5 280.0,923.5 295.1,923.5 310.2,923.5 325.3,923.5 340.4,923.5 355.5,923.5 370.6,923.5 385.7,923.5 400.8,923.5 415.9,923.5 431.0,923.5 446.1,923.5 461.2,923.5 476.3,923.5 491.4,923.5 506.5,923.5 521.6,923.5 536.7,923.5 551.8,923.5 566.9,923.5 582.0,923.5 597.1,923.5 612.2,923.5 612.2,985.8 627.3,985.8 642.4,985.8 642.4,1048.2 657.5,1048.2 657.5,1110.5 672.6,1110.5 687.7,1110.5 702.8,1110.5 717.9,1110.5 733.0,1110.5" fill="none" stroke="#000" stroke-width="1.8" stroke-linejoin="round" stroke-linecap="round" />
<circle cx="129.0" cy="923.5" r="6.4" fill="#000" stroke="#555" stroke-width="0.5"/>
<circle cx="144.1" cy="923.5" r="6.4" fill="#000" stroke="#555" stroke-width="0.5"/>
<circle cx="159.2" cy="923.5" r="6.4" fill="#000" stroke="#555" stroke-width="0.5"/>
<circle cx="174.3" cy="923.5" r="6.4" fill="#000" stroke="#555" stroke-width="0.5"/>
<circle cx="189.4" cy="923.5" r="6.4" fill="#000" stroke="#555" stroke-width="0.5"/>
<circle cx="204.5" cy="923.5" r="6.4" fill="#000" stroke="#555" stroke-width="0.5"/>
<circle cx="219.6" cy="923.5" r="6.4" fill="#000" stroke="#555" stroke-width="0.5"/>
<circle cx="234.7" cy="923.5" r="6.4" fill="#000" stroke="#555" stroke-width="0.5"/>
<circle cx="249.8" cy="923.5" r="6.4" fill="#000" stroke="#555" stroke-width="0.5"/>
<circle cx="264.9" cy="923.5" r="6.4" fill="#000" stroke="#555" stroke-width="0.5"/>
<circle cx="280.0" cy="923.5" r="6.4" fill="#000" stroke="#555" stroke-width="0.5"/>
<circle cx="295.1" cy="923.5" r="6.4" fill="#000" stroke="#555" stroke-width="0.5"/>
<circle cx="310.2" cy="923.5" r="6.4" fill="#000" stroke="#555" stroke-width="0.5"/>
<circle cx="325.3" cy="923.5" r="6.4" fill="#000" stroke="#555" stroke-width="0.5"/>
<circle cx="340.4" cy="923.5" r="6.4" fill="#000" stroke="#555" stroke-width="0.5"/>
<circle cx="355.5" cy="923.5" r="6.4" fill="#000" stroke="#555" stroke-width="0.5"/>
<circle cx="370.6" cy="923.5" r="6.4" fill="#000" stroke="#555" stroke-width="0.5"/>
<circle cx="385.7" cy="923.5" r="6.4" fill="#000" stroke="#555" stroke-width="0.5"/>
<circle cx="400.8" cy="923.5" r="6.4" fill="#000" stroke="#555" stroke-width="0.5"/>
<circle cx="415.9" cy="923.5" r="6.4" fill="#000" stroke="#555" stroke-width="0.5"/>
<circle cx="431.0" cy="923.5" r="6.4" fill="#000" stroke="#555" stroke-width="0.5"/>
<circle cx="446.1" cy="923.5" r="6.4" fill="#000" stroke="#555" stroke-width="0.5"/>
<circle cx="461.2" cy="923.5" r="6.4" fill="#000" stroke="#555" stroke-width="0.5"/>
<circle cx="476.3" cy="923.5" r="6.4" fill="#000" stroke="#555" stroke-width="0.5"/>
<circle cx="491.4" cy="923.5" r="6.4" fill="#000" stroke="#555" stroke-width="0.5"/>
<circle cx="506.5" cy="923.5" r="6.4" fill="#000" stroke="#555" stroke-width="0.5"/>
<circle cx="521.6" cy="923.5" r="6.4" fill="#000" stroke="#555" stroke-width="0.5"/>
<circle cx="536.7" cy="923.5" r="6.4" fill="#000" stroke="#555" stroke-width="0.5"/>
<circle cx="551.8" cy="923.5" r="6.4" fill="#000" stroke="#555" stroke-width="0.5"/>
<circle cx="566.9" cy="923.5" r="6.4" fill="#000" stroke="#555" stroke-width="0.5"/>
<circle cx="582.0" cy="923.5" r="6.4" fill="#000" stroke="#555" stroke-width="0.5"/>
<circle cx="597.1" cy="923.5" r="6.4" fill="#000" stroke="#555" stroke-width="0.5"/>
<circle cx="612.2" cy="923.5" r="6.4" fill="#000" stroke="#555" stroke-width="0.5"/>
<circle cx="612.2" cy="985.8" r="6.4" fill="#000" stroke="#555" stroke-width="0.5"/>
<circle cx="627.3" cy="985.8" r="6.4" fill="#000" stroke="#555" stroke-width="0.5"/>
<circle cx="642.4" cy="985.8" r="6.4" fill="#000" stroke="#555" stroke-width="0.5"/>
<circle cx="642.4" cy="1048.2" r="6.4" fill="#000" stroke="#555" stroke-width="0.5"/>
<circle cx="657.5" cy="1048.2" r="6.4" fill="#000" stroke="#555" stroke-width="0.5"/>
<circle cx="657.5" cy="1110.5" r="6.4" fill="#000" stroke="#555" stroke-width="0.5"/>
<circle cx="672.6" cy="1110.5" r="6.4" fill="#000" stroke="#555" stroke-width="0.5"/>
<circle cx="687.7" cy="1110.5" r="6.4" fill="#000" stroke="#555" stroke-width="0.5"/>
<circle cx="702.8" cy="1110.5" r="6.4" fill="#000" stroke="#555" stroke-width="0.5"/>
<circle cx="717.9" cy="1110.5" r="6.4" fill="#000" stroke="#555" stroke-width="0.5"/>
<circle cx="733.0" cy="1110.5" r="6.4" fill="#000" stroke="#555" stroke-width="0.5"/>
<line x1="150.5" y1="1083.2" x2="192.0" y2="1083.2" stroke="#000" stroke-width="1.6" />
<path d="M165.2 1078.0L175.8 1088.5M165.2 1088.5L175.8 1078.0" stroke="#000" stroke-width="1.6" fill="none"/>
<text x="196.3" y="1092.0" font-size="25.3" text-anchor="start" >PBS</text>
<line x1="150.5" y1="1125.0" x2="192.0" y2="1125.0" stroke="#000" stroke-width="1.6" />
<rect x="164.1" y="1118.6" width="12.8" height="12.8" fill="#000"/>
<text x="196.3" y="1133.8" font-size="25.3" text-anchor="start" >OVA</text>
<line x1="150.5" y1="1165.0" x2="192.0" y2="1165.0" stroke="#000" stroke-width="1.6" />
<circle cx="170.5" cy="1165.0" r="6.4" fill="#fff" stroke="#000" stroke-width="1.6"/>
<text x="196.3" y="1173.8" font-size="25.3" text-anchor="start" >CHP</text>
<line x1="150.5" y1="1206.1" x2="192.0" y2="1206.1" stroke="#000" stroke-width="1.6" />
<circle cx="170.5" cy="1206.1" r="6.4" fill="#000"/>
<text x="196.3" y="1214.9" font-size="25.3" text-anchor="start" >CH-CDex</text>
<text x="845.0" y="28.6" font-size="38" text-anchor="start" font-weight="bold" >(b)</text>
<clipPath id="cp954_77"><rect x="954.6" y="77.7" width="362.7" height="353.1"/></clipPath>
<g clip-path="url(#cp954_77)">
<polyline points="961.0,428.3 989.1,427.3 1003.1,425.8 1017.2,420.7 1031.2,418.2 1045.2,412.2 1059.3,403.2 1073.3,393.2 1087.4,379.2 1101.4,369.1 1115.4,359.1 1129.5,353.1 1143.5,322.0 1157.6,314.0 1171.6,300.7 1185.6,279.0 1199.7,257.2 1213.7,220.5 1227.8,165.3 1241.8,109.9" fill="none" stroke="#000" stroke-width="2.55" stroke-linejoin="round" stroke-linecap="round" />
<polyline points="961.0,428.3 989.1,427.5 1003.1,426.5 1017.2,422.0 1031.2,419.5 1045.2,414.0 1059.3,405.0 1073.3,396.0 1087.4,380.2 1101.4,370.1 1115.4,370.1 1129.5,374.6 1143.5,379.7 1157.6,392.2 1171.6,384.7 1185.6,379.7 1199.7,374.6 1213.7,366.1 1227.8,352.6 1241.8,339.1 1255.8,304.0 1269.9,271.2 1283.9,219.6 1298.0,189.0" fill="none" stroke="#000" stroke-width="2.55" stroke-linejoin="round" stroke-linecap="round" />
<polyline points="961.0,428.3 989.1,427.5 1003.1,426.7 1017.2,423.0 1031.2,420.5 1045.2,415.0 1059.3,406.0 1073.3,397.0 1087.4,383.2 1101.4,379.2 1115.4,372.1 1129.5,363.6 1143.5,358.1 1157.6,341.1 1171.6,338.6 1185.6,336.1 1199.7,313.0 1213.7,293.0 1227.8,273.0 1241.8,253.7 1255.8,182.0 1269.9,116.4" fill="none" stroke="#000" stroke-width="2.55" stroke-linejoin="round" stroke-linecap="round" />
<polyline points="961.0,428.3 989.1,427.6 1003.1,427.0 1017.2,424.0 1031.2,421.5 1045.2,416.5 1059.3,408.0 1073.3,399.0 1087.4,390.2 1101.4,381.2 1115.4,379.2 1129.5,372.1 1143.5,363.1 1157.6,347.6 1171.6,332.1 1185.6,321.5 1199.7,307.5 1213.7,278.2 1227.8,258.0 1241.8,238.0 1255.8,179.3 1269.9,162.7 1283.9,68.0" fill="none" stroke="#000" stroke-width="2.55" stroke-linejoin="round" stroke-linecap="round" />
<polyline points="961.0,428.3 989.1,427.8 1003.1,427.3 1017.2,426.5 1031.2,424.7 1045.2,423.7 1059.3,421.7 1073.3,418.7 1087.4,411.2 1101.4,406.7 1115.4,405.0 1129.5,398.7 1143.5,403.2 1157.6,409.7 1171.6,414.2 1185.6,415.4 1199.7,415.7 1213.7,414.2 1227.8,411.2 1241.8,408.0 1255.8,402.2 1269.9,396.2 1283.9,385.2 1298.0,373.6" fill="none" stroke="#000" stroke-width="2.55" stroke-linejoin="round" stroke-linecap="round" />
</g>
<rect x="954.6" y="77.7" width="362.7" height="351.1" fill="none" stroke="#000" stroke-width="1.9"/>
<line x1="947.3" y1="428.8" x2="954.6" y2="428.8" stroke="#000" stroke-width="1.9" />
<text x="933.8" y="436.9" font-size="23.0" text-anchor="end" >0</text>
<line x1="947.3" y1="358.6" x2="954.6" y2="358.6" stroke="#000" stroke-width="1.9" />
<text x="933.8" y="366.7" font-size="23.0" text-anchor="end" >500</text>
<line x1="947.3" y1="288.4" x2="954.6" y2="288.4" stroke="#000" stroke-width="1.9" />
<text x="933.8" y="296.5" font-size="23.0" text-anchor="end" >1000</text>
<line x1="947.3" y1="218.1" x2="954.6" y2="218.1" stroke="#000" stroke-width="1.9" />
<text x="933.8" y="226.2" font-size="23.0" text-anchor="end" >1500</text>
<line x1="947.3" y1="147.9" x2="954.6" y2="147.9" stroke="#000" stroke-width="1.9" />
<text x="933.8" y="156.0" font-size="23.0" text-anchor="end" >2000</text>
<line x1="947.3" y1="77.7" x2="954.6" y2="77.7" stroke="#000" stroke-width="1.9" />
<text x="933.8" y="85.8" font-size="23.0" text-anchor="end" >2500</text>
<text x="958.2" y="464.7" font-size="23.0" text-anchor="middle" >0</text>
<text x="986.2" y="464.7" font-size="23.0" text-anchor="middle" >2</text>
<text x="1014.2" y="464.7" font-size="23.0" text-anchor="middle" >4</text>
<text x="1042.3" y="464.7" font-size="23.0" text-anchor="middle" >6</text>
<text x="1070.3" y="464.7" font-size="23.0" text-anchor="middle" >8</text>
<text x="1098.3" y="464.7" font-size="23.0" text-anchor="middle" >10</text>
<text x="1126.3" y="464.7" font-size="23.0" text-anchor="middle" >12</text>
<text x="1154.3" y="464.7" font-size="23.0" text-anchor="middle" >14</text>
<text x="1182.4" y="464.7" font-size="23.0" text-anchor="middle" >16</text>
<text x="1210.4" y="464.7" font-size="23.0" text-anchor="middle" >18</text>
<text x="1238.4" y="464.7" font-size="23.0" text-anchor="middle" >20</text>
<text x="1266.4" y="464.7" font-size="23.0" text-anchor="middle" >22</text>
<text x="1294.4" y="464.7" font-size="23.0" text-anchor="middle" >24</text>
<text x="1109.1" y="62.6" font-size="27.3" text-anchor="middle" >PBS</text>
<text transform="translate(862.9,244.9) rotate(-90)" font-size="25.3" text-anchor="middle" font-weight="bold">Tumour volume (mm<tspan font-size="17.3" dy="-8.6">3</tspan><tspan dy="8.6" dx="-0.8">)</tspan></text>
<text x="1129.4" y="509.2" font-size="25.3" text-anchor="middle" font-weight="bold" >Days after tumour inoculation</text>
<clipPath id="cp1532_77"><rect x="1532.9" y="77.5" width="362.4" height="353.3"/></clipPath>
<g clip-path="url(#cp1532_77)">
<polyline points="1539.0,428.3 1567.1,427.1 1581.1,427.8 1595.2,423.0 1609.2,419.7 1623.2,411.7 1637.3,398.7 1651.3,394.2 1665.4,394.2 1679.4,383.7 1693.4,376.7 1707.5,392.3 1721.5,408.2 1735.6,416.2 1749.6,416.2 1763.6,417.2 1777.7,414.2 1791.7,405.2 1805.8,391.2 1819.8,377.2 1833.8,348.1 1847.9,337.1 1861.9,288.4 1876.0,250.8" fill="none" stroke="#000" stroke-width="2.55" stroke-linejoin="round" stroke-linecap="round" />
<polyline points="1539.0,428.3 1567.1,427.1 1581.1,428.1 1595.2,423.7 1609.2,421.7 1623.2,413.2 1637.3,407.7 1651.3,400.2 1665.4,394.7 1679.4,384.0 1693.4,389.2 1707.5,401.2 1721.5,409.2 1735.6,419.2 1749.6,420.7 1763.6,425.3 1777.7,424.7 1791.7,422.7 1805.8,417.2 1819.8,411.2 1833.8,407.2 1847.9,403.2 1861.9,389.2 1876.0,397.7" fill="none" stroke="#000" stroke-width="2.55" stroke-linejoin="round" stroke-linecap="round" />
<polyline points="1539.0,428.3 1567.1,427.1 1581.1,428.1 1595.2,424.2 1609.2,422.7 1623.2,414.2 1637.3,408.7 1651.3,406.2 1665.4,404.2 1679.4,385.2 1693.4,390.7 1707.5,403.2 1721.5,410.2 1735.6,419.7 1749.6,422.7 1763.6,426.5 1777.7,427.1 1791.7,425.3 1805.8,421.7 1819.8,417.2 1833.8,412.7 1847.9,411.7 1861.9,406.7 1876.0,396.7" fill="none" stroke="#000" stroke-width="2.55" stroke-linejoin="round" stroke-linecap="round" />
<polyline points="1539.0,428.3 1567.1,427.3 1581.1,428.3 1595.2,424.7 1609.2,424.2 1623.2,419.7 1637.3,413.7 1651.3,412.7 1665.4,406.2 1679.4,396.2 1693.4,399.2 1707.5,411.2 1721.5,416.7 1735.6,421.7 1749.6,425.3 1763.6,427.3 1777.7,427.5 1791.7,425.8 1805.8,422.7 1819.8,418.7 1833.8,414.7 1847.9,412.7 1861.9,407.7 1876.0,397.7" fill="none" stroke="#000" stroke-width="2.55" stroke-linejoin="round" stroke-linecap="round" />
<polyline points="1539.0,428.3 1567.1,427.3 1581.1,428.3 1595.2,425.3 1609.2,424.7 1623.2,421.2 1637.3,416.7 1651.3,415.7 1665.4,407.7 1679.4,399.7 1693.4,408.7 1707.5,415.2 1721.5,424.7 1735.6,426.3 1749.6,427.8 1763.6,428.1 1777.7,428.1 1791.7,428.1 1805.8,428.1 1819.8,428.1 1833.8,428.1 1847.9,428.1 1861.9,428.1 1876.0,428.1" fill="none" stroke="#000" stroke-width="2.55" stroke-linejoin="round" stroke-linecap="round" />
</g>
<rect x="1532.9" y="77.5" width="362.4" height="351.3" fill="none" stroke="#000" stroke-width="1.9"/>
<line x1="1525.6" y1="428.8" x2="1532.9" y2="428.8" stroke="#000" stroke-width="1.9" />
<text x="1512.1" y="436.9" font-size="23.0" text-anchor="end" >0</text>
<line x1="1525.6" y1="358.5" x2="1532.9" y2="358.5" stroke="#000" stroke-width="1.9" />
<text x="1512.1" y="366.6" font-size="23.0" text-anchor="end" >500</text>
<line x1="1525.6" y1="288.3" x2="1532.9" y2="288.3" stroke="#000" stroke-width="1.9" />
<text x="1512.1" y="296.4" font-size="23.0" text-anchor="end" >1000</text>
<line x1="1525.6" y1="218.0" x2="1532.9" y2="218.0" stroke="#000" stroke-width="1.9" />
<text x="1512.1" y="226.1" font-size="23.0" text-anchor="end" >1500</text>
<line x1="1525.6" y1="147.8" x2="1532.9" y2="147.8" stroke="#000" stroke-width="1.9" />
<text x="1512.1" y="155.9" font-size="23.0" text-anchor="end" >2000</text>
<line x1="1525.6" y1="77.5" x2="1532.9" y2="77.5" stroke="#000" stroke-width="1.9" />
<text x="1512.1" y="85.6" font-size="23.0" text-anchor="end" >2500</text>
<text x="1536.2" y="464.7" font-size="23.0" text-anchor="middle" >0</text>
<text x="1564.2" y="464.7" font-size="23.0" text-anchor="middle" >2</text>
<text x="1592.2" y="464.7" font-size="23.0" text-anchor="middle" >4</text>
<text x="1620.3" y="464.7" font-size="23.0" text-anchor="middle" >6</text>
<text x="1648.3" y="464.7" font-size="23.0" text-anchor="middle" >8</text>
<text x="1676.3" y="464.7" font-size="23.0" text-anchor="middle" >10</text>
<text x="1704.3" y="464.7" font-size="23.0" text-anchor="middle" >12</text>
<text x="1732.3" y="464.7" font-size="23.0" text-anchor="middle" >14</text>
<text x="1760.4" y="464.7" font-size="23.0" text-anchor="middle" >16</text>
<text x="1788.4" y="464.7" font-size="23.0" text-anchor="middle" >18</text>
<text x="1816.4" y="464.7" font-size="23.0" text-anchor="middle" >20</text>
<text x="1844.4" y="464.7" font-size="23.0" text-anchor="middle" >22</text>
<text x="1872.4" y="464.7" font-size="23.0" text-anchor="middle" >24</text>
<text x="1687.4" y="65.3" font-size="27.3" text-anchor="middle" >CHP</text>
<text transform="translate(1440.0,244.8) rotate(-90)" font-size="25.3" text-anchor="middle" font-weight="bold">Tumour volume (mm<tspan font-size="17.3" dy="-8.6">3</tspan><tspan dy="8.6" dx="-0.8">)</tspan></text>
<text x="1694.8" y="509.2" font-size="25.3" text-anchor="middle" font-weight="bold" >Days after tumour inoculation</text>
<clipPath id="cp954_596"><rect x="954.6" y="596.6" width="362.7" height="353.2"/></clipPath>
<g clip-path="url(#cp954_596)">
<polyline points="961.0,948.1 989.1,947.3 1003.1,946.5 1017.2,941.7 1031.2,937.2 1045.2,935.2 1059.3,927.7 1073.3,919.2 1087.4,909.7 1101.4,899.2 1115.4,881.3 1129.5,883.1 1143.5,878.9 1157.6,897.2 1171.6,899.2 1185.6,902.2 1199.7,903.2 1213.7,899.2 1227.8,885.6 1241.8,872.1 1255.8,837.2 1269.9,816.3 1283.9,754.3 1298.0,719.9" fill="none" stroke="#000" stroke-width="2.55" stroke-linejoin="round" stroke-linecap="round" />
<polyline points="961.0,948.1 989.1,947.3 1003.1,946.7 1017.2,942.2 1031.2,938.2 1045.2,935.7 1059.3,928.2 1073.3,919.7 1087.4,910.2 1101.4,899.7 1115.4,905.7 1129.5,903.2 1143.5,911.4 1157.6,927.2 1171.6,928.7 1185.6,931.2 1199.7,928.2 1213.7,930.7 1227.8,926.7 1241.8,922.2 1255.8,917.2 1269.9,909.7 1283.9,905.2 1298.0,894.1" fill="none" stroke="#000" stroke-width="2.55" stroke-linejoin="round" stroke-linecap="round" />
<polyline points="961.0,948.1 989.1,947.5 1003.1,946.9 1017.2,943.7 1031.2,940.2 1045.2,937.2 1059.3,931.2 1073.3,928.7 1087.4,926.2 1101.4,916.2 1115.4,913.2 1129.5,915.2 1143.5,921.4 1157.6,929.2 1171.6,933.2 1185.6,935.2 1199.7,938.7 1213.7,937.2 1227.8,934.2 1241.8,931.2 1255.8,927.7 1269.9,919.2 1283.9,911.2 1298.0,905.2" fill="none" stroke="#000" stroke-width="2.55" stroke-linejoin="round" stroke-linecap="round" />
<polyline points="961.0,948.1 989.1,947.7 1003.1,947.1 1017.2,944.7 1031.2,942.7 1045.2,941.2 1059.3,940.2 1073.3,936.2 1087.4,934.2 1101.4,930.2 1115.4,926.2 1129.5,922.2 1143.5,921.7 1157.6,931.7 1171.6,935.2 1185.6,937.2 1199.7,939.2 1213.7,937.7 1227.8,935.2 1241.8,932.7 1255.8,930.2 1269.9,927.2 1283.9,912.2 1298.0,894.1" fill="none" stroke="#000" stroke-width="2.55" stroke-linejoin="round" stroke-linecap="round" />
<polyline points="961.0,948.1 989.1,947.7 1003.1,947.1 1017.2,945.1 1031.2,943.2 1045.2,941.7 1059.3,940.7 1073.3,936.7 1087.4,934.7 1101.4,931.2 1115.4,931.2 1129.5,933.7 1143.5,941.4 1157.6,944.2 1171.6,946.8 1185.6,948.1 1199.7,948.1 1213.7,948.1 1227.8,948.1 1241.8,948.1 1255.8,948.1 1269.9,948.1 1283.9,948.1 1298.0,948.1" fill="none" stroke="#000" stroke-width="2.55" stroke-linejoin="round" stroke-linecap="round" />
</g>
<rect x="954.6" y="596.6" width="362.7" height="351.2" fill="none" stroke="#000" stroke-width="1.9"/>
<line x1="947.3" y1="947.8" x2="954.6" y2="947.8" stroke="#000" stroke-width="1.9" />
<text x="933.8" y="955.9" font-size="23.0" text-anchor="end" >0</text>
<line x1="947.3" y1="877.6" x2="954.6" y2="877.6" stroke="#000" stroke-width="1.9" />
<text x="933.8" y="885.7" font-size="23.0" text-anchor="end" >500</text>
<line x1="947.3" y1="807.3" x2="954.6" y2="807.3" stroke="#000" stroke-width="1.9" />
<text x="933.8" y="815.4" font-size="23.0" text-anchor="end" >1000</text>
<line x1="947.3" y1="737.1" x2="954.6" y2="737.1" stroke="#000" stroke-width="1.9" />
<text x="933.8" y="745.2" font-size="23.0" text-anchor="end" >1500</text>
<line x1="947.3" y1="666.8" x2="954.6" y2="666.8" stroke="#000" stroke-width="1.9" />
<text x="933.8" y="674.9" font-size="23.0" text-anchor="end" >2000</text>
<line x1="947.3" y1="596.6" x2="954.6" y2="596.6" stroke="#000" stroke-width="1.9" />
<text x="933.8" y="604.7" font-size="23.0" text-anchor="end" >2500</text>
<text x="958.2" y="983.7" font-size="23.0" text-anchor="middle" >0</text>
<text x="986.2" y="983.7" font-size="23.0" text-anchor="middle" >2</text>
<text x="1014.2" y="983.7" font-size="23.0" text-anchor="middle" >4</text>
<text x="1042.3" y="983.7" font-size="23.0" text-anchor="middle" >6</text>
<text x="1070.3" y="983.7" font-size="23.0" text-anchor="middle" >8</text>
<text x="1098.3" y="983.7" font-size="23.0" text-anchor="middle" >10</text>
<text x="1126.3" y="983.7" font-size="23.0" text-anchor="middle" >12</text>
<text x="1154.3" y="983.7" font-size="23.0" text-anchor="middle" >14</text>
<text x="1182.4" y="983.7" font-size="23.0" text-anchor="middle" >16</text>
<text x="1210.4" y="983.7" font-size="23.0" text-anchor="middle" >18</text>
<text x="1238.4" y="983.7" font-size="23.0" text-anchor="middle" >20</text>
<text x="1266.4" y="983.7" font-size="23.0" text-anchor="middle" >22</text>
<text x="1294.4" y="983.7" font-size="23.0" text-anchor="middle" >24</text>
<text x="1109.1" y="590.0" font-size="27.3" text-anchor="middle" >OVA</text>
<text transform="translate(862.9,763.9) rotate(-90)" font-size="25.3" text-anchor="middle" font-weight="bold">Tumour volume (mm<tspan font-size="17.3" dy="-8.6">3</tspan><tspan dy="8.6" dx="-0.8">)</tspan></text>
<text x="1129.4" y="1030.1" font-size="25.3" text-anchor="middle" font-weight="bold" >Days after tumour inoculation</text>
<clipPath id="cp1532_596"><rect x="1532.9" y="596.6" width="362.4" height="353.2"/></clipPath>
<g clip-path="url(#cp1532_596)">
<polyline points="1539.0,948.1 1567.1,947.9 1581.1,947.3 1595.2,942.7 1609.2,939.2 1623.2,931.7 1637.3,927.7 1651.3,920.2 1665.4,912.7 1679.4,907.2 1693.4,900.2 1707.5,914.2 1721.5,928.2 1735.6,934.2 1749.6,939.2 1763.6,942.7 1777.7,944.7 1791.7,943.7 1805.8,941.7 1819.8,939.2 1833.8,930.2 1847.9,931.2 1861.9,920.2 1876.0,910.2" fill="none" stroke="#000" stroke-width="2.55" stroke-linejoin="round" stroke-linecap="round" />
<polyline points="1539.0,948.1 1567.1,947.9 1581.1,947.5 1595.2,943.4 1609.2,940.2 1623.2,933.2 1637.3,929.2 1651.3,924.2 1665.4,919.2 1679.4,906.2 1693.4,916.7 1707.5,914.7 1721.5,928.7 1735.6,935.2 1749.6,940.2 1763.6,943.7 1777.7,945.3 1791.7,944.7 1805.8,943.2 1819.8,940.2 1833.8,936.2 1847.9,932.7 1861.9,930.2 1876.0,919.2" fill="none" stroke="#000" stroke-width="2.55" stroke-linejoin="round" stroke-linecap="round" />
<polyline points="1539.0,948.1 1567.1,947.9 1581.1,947.5 1595.2,944.0 1609.2,941.2 1623.2,936.2 1637.3,932.2 1651.3,927.2 1665.4,921.2 1679.4,913.2 1693.4,908.2 1707.5,926.2 1721.5,930.7 1735.6,936.7 1749.6,941.2 1763.6,944.2 1777.7,945.8 1791.7,945.3 1805.8,944.2 1819.8,941.7 1833.8,938.7 1847.9,936.2 1861.9,932.2 1876.0,922.2" fill="none" stroke="#000" stroke-width="2.55" stroke-linejoin="round" stroke-linecap="round" />
<polyline points="1539.0,948.1 1567.1,947.9 1581.1,947.7 1595.2,944.6 1609.2,942.2 1623.2,938.2 1637.3,934.2 1651.3,930.2 1665.4,926.2 1679.4,916.2 1693.4,914.2 1707.5,923.2 1721.5,935.2 1735.6,939.7 1749.6,942.7 1763.6,945.8 1777.7,946.8 1791.7,946.5 1805.8,946.3 1819.8,946.1 1833.8,945.8 1847.9,944.7 1861.9,942.4 1876.0,944.0" fill="none" stroke="#000" stroke-width="2.55" stroke-linejoin="round" stroke-linecap="round" />
<polyline points="1539.0,948.1 1567.1,947.9 1581.1,947.8 1595.2,945.3 1609.2,944.2 1623.2,943.2 1637.3,939.7 1651.3,933.7 1665.4,933.2 1679.4,929.2 1693.4,930.7 1707.5,936.7 1721.5,943.2 1735.6,945.8 1749.6,947.3 1763.6,948.1 1777.7,948.1 1791.7,948.1 1805.8,948.1 1819.8,948.1 1833.8,948.1 1847.9,948.1 1861.9,948.1 1876.0,947.8" fill="none" stroke="#000" stroke-width="2.55" stroke-linejoin="round" stroke-linecap="round" />
</g>
<rect x="1532.9" y="596.6" width="362.4" height="351.2" fill="none" stroke="#000" stroke-width="1.9"/>
<line x1="1525.6" y1="947.8" x2="1532.9" y2="947.8" stroke="#000" stroke-width="1.9" />
<text x="1512.1" y="955.9" font-size="23.0" text-anchor="end" >0</text>
<line x1="1525.6" y1="877.6" x2="1532.9" y2="877.6" stroke="#000" stroke-width="1.9" />
<text x="1512.1" y="885.7" font-size="23.0" text-anchor="end" >500</text>
<line x1="1525.6" y1="807.3" x2="1532.9" y2="807.3" stroke="#000" stroke-width="1.9" />
<text x="1512.1" y="815.4" font-size="23.0" text-anchor="end" >1000</text>
<line x1="1525.6" y1="737.1" x2="1532.9" y2="737.1" stroke="#000" stroke-width="1.9" />
<text x="1512.1" y="745.2" font-size="23.0" text-anchor="end" >1500</text>
<line x1="1525.6" y1="666.8" x2="1532.9" y2="666.8" stroke="#000" stroke-width="1.9" />
<text x="1512.1" y="674.9" font-size="23.0" text-anchor="end" >2000</text>
<line x1="1525.6" y1="596.6" x2="1532.9" y2="596.6" stroke="#000" stroke-width="1.9" />
<text x="1512.1" y="604.7" font-size="23.0" text-anchor="end" >2500</text>
<text x="1536.2" y="983.7" font-size="23.0" text-anchor="middle" >0</text>
<text x="1564.2" y="983.7" font-size="23.0" text-anchor="middle" >2</text>
<text x="1592.2" y="983.7" font-size="23.0" text-anchor="middle" >4</text>
<text x="1620.3" y="983.7" font-size="23.0" text-anchor="middle" >6</text>
<text x="1648.3" y="983.7" font-size="23.0" text-anchor="middle" >8</text>
<text x="1676.3" y="983.7" font-size="23.0" text-anchor="middle" >10</text>
<text x="1704.3" y="983.7" font-size="23.0" text-anchor="middle" >12</text>
<text x="1732.3" y="983.7" font-size="23.0" text-anchor="middle" >14</text>
<text x="1760.4" y="983.7" font-size="23.0" text-anchor="middle" >16</text>
<text x="1788.4" y="983.7" font-size="23.0" text-anchor="middle" >18</text>
<text x="1816.4" y="983.7" font-size="23.0" text-anchor="middle" >20</text>
<text x="1844.4" y="983.7" font-size="23.0" text-anchor="middle" >22</text>
<text x="1872.4" y="983.7" font-size="23.0" text-anchor="middle" >24</text>
<text x="1687.4" y="592.6" font-size="27.3" text-anchor="middle" >CH-CDex</text>
<text transform="translate(1440.0,763.9) rotate(-90)" font-size="25.3" text-anchor="middle" font-weight="bold">Tumour volume (mm<tspan font-size="17.3" dy="-8.6">3</tspan><tspan dy="8.6" dx="-0.8">)</tspan></text>
<text x="1694.8" y="1030.1" font-size="25.3" text-anchor="middle" font-weight="bold" >Days after tumour inoculation</text>
</svg>
</body></html>
